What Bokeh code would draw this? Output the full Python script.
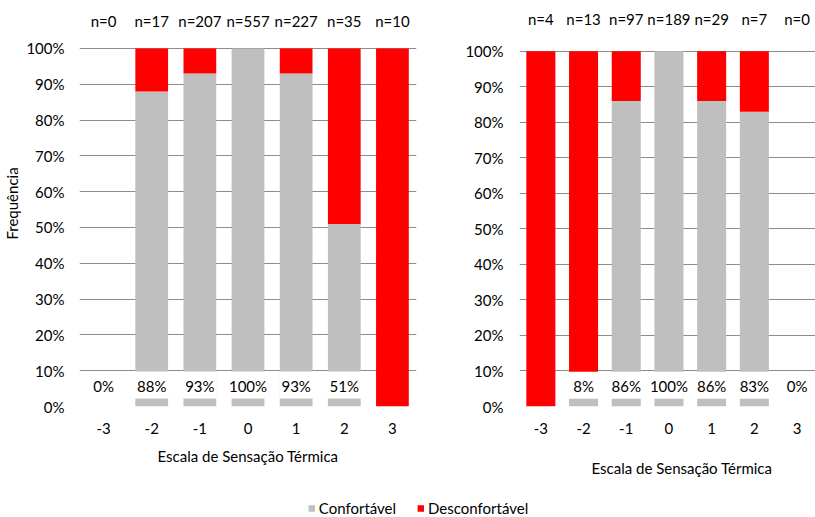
from bokeh.plotting import figure
from bokeh.models import (ColumnDataSource, Range1d, FixedTicker, NumeralTickFormatter,
                          Title, Legend, LegendItem)
from bokeh.layouts import row, column
from bokeh.embed import file_html
from bokeh.resources import INLINE
from bokeh.core.properties import value

# ---------------- data ----------------
categories = [-3, -2, -1, 0, 1, 2, 3]
cat_labels = ["-3", "-2", "-1", "0", "1", "2", "3"]

left_n = [0, 17, 207, 557, 227, 35, 10]
left_comf = [0.0, 0.88, 0.93, 1.00, 0.93, 0.51, 0.0]
left_pct_labels = ["0%", "88%", "93%", "100%", "93%", "51%", ""]

right_n = [4, 13, 97, 189, 29, 7, 0]
right_comf = [0.0, 0.08, 0.86, 1.00, 0.86, 0.83, 0.0]
right_pct_labels = ["", "8%", "86%", "100%", "86%", "83%", "0%"]

series_names = ["Confortável", "Desconfortável"]
x_title = "Escala de Sensação Térmica"
y_title = "Frequência"

GRAY = "#BFBFBF"
RED = "#FF0000"
GRID = "#8C8C8C"
FONT = "Lato"
FS = "15px"


def make_panel(n, comf, pct_labels, width, height, border_left, border_right,
               border_bottom, y_top, x_end, n_y, ylabel_standoff, with_y_title):
    disc = [(1.0 - c) if k > 0 else 0.0 for c, k in zip(comf, n)]
    comf_top = [c if k > 0 else 0.0 for c, k in zip(comf, n)]
    src = ColumnDataSource(dict(
        x=categories,
        comf=comf_top,
        total=[a + b for a, b in zip(comf_top, disc)],
        nlab=["n=%d" % k for k in n],
    ))
    box_x = [c for c, lab in zip(categories, pct_labels) if lab]
    box_lab = [lab for lab in pct_labels if lab]
    box_src = ColumnDataSource(dict(x=box_x, lab=box_lab))

    p = figure(width=width, height=height, output_backend="svg", toolbar_location=None,
               x_range=Range1d(-3.5, x_end), y_range=Range1d(0, y_top),
               min_border_left=border_left, min_border_right=border_right,
               min_border_top=0, min_border_bottom=border_bottom)
    p.outline_line_color = None
    p.background_fill_color = "white"
    p.border_fill_color = "white"

    bw = 0.68
    p.vbar(x="x", bottom=0, top="comf", width=bw, source=src,
           fill_color=GRAY, line_color=None)
    p.vbar(x="x", bottom="comf", top="total", width=bw, source=src,
           fill_color=RED, line_color=None)
    # white label boxes behind the percentage labels
    p.vbar(x="x", bottom=0.022, top=0.098, width=bw + 0.02, source=box_src,
           fill_color="white", line_color=None)
    p.text(x="x", y=0.057, text="lab", source=box_src, text_align="center",
           text_baseline="middle", text_font=value(FONT), text_font_size=FS,
           text_color="black")
    p.text(x="x", y=n_y, text="nlab", source=src, text_align="center",
           text_baseline="middle", text_font=value(FONT), text_font_size=FS,
           text_color="black")

    # axes
    p.yaxis.ticker = FixedTicker(ticks=[i / 10 for i in range(11)])
    p.yaxis.formatter = NumeralTickFormatter(format="0%")
    p.xaxis.ticker = FixedTicker(ticks=categories)
    p.xaxis.major_label_overrides = {c: l for c, l in zip(categories, cat_labels)}
    for ax in (p.xaxis[0], p.yaxis[0]):
        ax.axis_line_color = None
        ax.major_tick_line_color = None
        ax.minor_tick_line_color = None
        ax.major_tick_out = 0
        ax.major_tick_in = 0
        ax.major_label_text_font = FONT
        ax.major_label_text_font_size = FS
        ax.major_label_text_color = "black"
        ax.axis_label_text_font = FONT
        ax.axis_label_text_font_size = FS
        ax.axis_label_text_font_style = "normal"
        ax.axis_label_text_color = "black"
    p.yaxis.major_label_standoff = ylabel_standoff
    p.xaxis.major_label_standoff = 16
    if with_y_title:
        p.yaxis.axis_label = y_title
        p.yaxis.axis_label_standoff = 2
    p.xgrid.grid_line_color = None
    p.ygrid.ticker = FixedTicker(ticks=[i / 10 for i in range(11)])
    p.ygrid.grid_line_color = GRID
    p.ygrid.grid_line_width = 1
    return p


left = make_panel(left_n, left_comf, left_pct_labels, width=440, height=497,
                  border_left=76, border_right=24, border_bottom=88,
                  y_top=1.134, x_end=3.5, n_y=1.078, ylabel_standoff=15,
                  with_y_title=True)
left.xaxis.axis_label = x_title
left.xaxis.axis_label_standoff = 10

right = make_panel(right_n, right_comf, right_pct_labels, width=375, height=497,
                   border_left=79, border_right=0, border_bottom=89,
                   y_top=1.143, x_end=-3.5 + 296 / 42.7, n_y=1.090,
                   ylabel_standoff=16, with_y_title=False)
right.add_layout(Title(text=x_title, align="left", offset=72, standoff=41,
                       text_font=FONT, text_font_size=FS, text_font_style="normal",
                       text_color="black"), "below")

# legend panel
leg = figure(width=815, height=20, output_backend="svg", toolbar_location=None,
             x_range=Range1d(0, 1), y_range=Range1d(0, 1),
             x_axis_location=None, y_axis_location=None,
             min_border_left=20, min_border_right=0, min_border_top=0, min_border_bottom=0)
leg.outline_line_color = None
leg.xgrid.visible = False
leg.ygrid.visible = False
r1 = leg.vbar(x=[10], top=[1], width=0.1, fill_color=GRAY, line_color=None)
r2 = leg.vbar(x=[10], top=[1], width=0.1, fill_color=RED, line_color=None)
legend = Legend(items=[LegendItem(label=series_names[0], renderers=[r1]),
                       LegendItem(label=series_names[1], renderers=[r2])],
                orientation="horizontal", location="bottom_center",
                glyph_width=8, glyph_height=8, label_standoff=4, spacing=20,
                padding=0, margin=0, border_line_color=None,
                background_fill_alpha=0,
                label_text_font=FONT, label_text_font_size=FS, label_text_color="black")
leg.add_layout(legend, "center")

layout = column(row(left, right), leg)
open("out.html", "w").write(file_html(layout, INLINE))
